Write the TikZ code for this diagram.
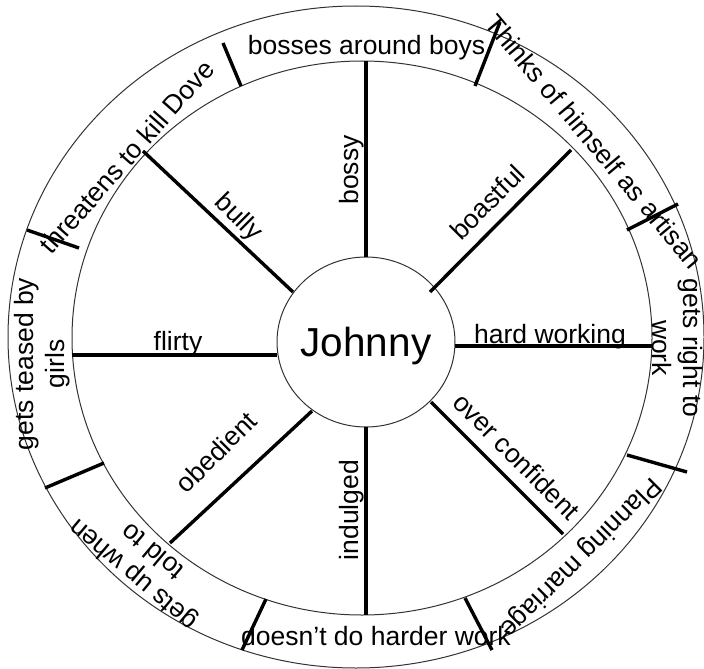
\documentclass[tikz,border=0pt]{standalone}
\usepackage{fontspec}
\setmainfont{Liberation Sans}
\usetikzlibrary{shapes.geometric}
\begin{document}
\begin{tikzpicture}[x=1pt,y=-1pt,
  ringline/.style={draw=black!80, line width=1pt},
  spokeline/.style={draw=black, line width=3.4pt},
  tickline/.style={draw=black, line width=3.4pt},
  lbl/.style={font=\fontsize{26.5}{31}\selectfont, inner sep=0pt, text=black},
  lbltwo/.style={lbl, align=center},
]
\useasboundingbox (0,0) rectangle (704,669);
\fill[white] (0,0) rectangle (704,669);

% rings
\draw[ringline] (356,337) ellipse [x radius=348, y radius=331];
\draw[ringline] (362,338) ellipse [x radius=290, y radius=277];
\node[ellipse, ringline, minimum width=178pt, minimum height=170pt, inner sep=0pt] (hub) at (366,342) {};
\node[font=\fontsize{40.5}{48}\selectfont, anchor=base, inner sep=0pt] (jname) at (366,356) {Johnny};

% spoke end points
\coordinate (bossyA) at (366,257);   \coordinate (bossyB) at (366,61);
\coordinate (indA) at (366,427);     \coordinate (indB) at (366,615);
\coordinate (flirtA) at (277,355);   \coordinate (flirtB) at (72,355);
\coordinate (hardA) at (455,346);    \coordinate (hardB) at (652,346);
\coordinate (bullyA) at (293,292);   \coordinate (bullyB) at (143,151);
\coordinate (boastA) at (430,292);   \coordinate (boastB) at (571,150);
\coordinate (obedA) at (312,411);    \coordinate (obedB) at (170,543);
\coordinate (overA) at (431,402);    \coordinate (overB) at (563,534);

\draw[spokeline] (bossyA) -- (bossyB);
\draw[spokeline] (indA) -- (indB);
\draw[spokeline] (flirtA) -- (flirtB);
\draw[spokeline] (hardA) -- (hardB);
\draw[spokeline] (bullyA) -- (bullyB);
\draw[spokeline] (boastA) -- (boastB);
\draw[spokeline] (obedA) -- (obedB);
\draw[spokeline] (overA) -- (overB);

% ring ticks
\coordinate (t1a) at (223,43);  \coordinate (t1b) at (241,86);
\coordinate (t2a) at (27,230);  \coordinate (t2b) at (79,248);
\coordinate (t3a) at (500,22);  \coordinate (t3b) at (475,86);
\coordinate (t4a) at (678,204); \coordinate (t4b) at (627,230);
\coordinate (t5a) at (687,472); \coordinate (t5b) at (627,455);
\coordinate (t6a) at (492,650); \coordinate (t6b) at (465,598);
\coordinate (t7a) at (242,650); \coordinate (t7b) at (266,599);
\coordinate (t8a) at (45,488);  \coordinate (t8b) at (104,463);
\foreach \t in {1,...,8} {\draw[tickline] (t\t a) -- (t\t b);}

% ring texts
\node[lbl, anchor=base] (rbosses) at (366.5,55) {bosses around boys};
\node[lbl, anchor=base] (rdoesnt) at (376,645) {doesn’t do harder work};
\node[lbl, anchor=mid, rotate=-50] (rthinks) at (589,146) {Thinks of himself as artisan};
\node[lbl, anchor=mid, rotate=48.5] (rthreat) at (132,161) {threatens to kill Dove};
\node[lbltwo, rotate=90] (rteased) at (42,364) {gets teased by\\girls};
\node[lbltwo, rotate=-90] (rright) at (677,348) {gets right to\\work};
\node[lbl, anchor=mid, rotate=225] (rplan) at (577,554) {Planning marriage};
\node[lbltwo, rotate=140] (rgetsup) at (142,564) {gets up when\\told to};

% spoke labels
\node[lbl, anchor=mid, rotate=90] (lbossy) at (356,170) {bossy};
\node[lbl, anchor=mid, rotate=90] (lind) at (356,510) {indulged};
\node[lbl, anchor=base] (lflirty) at (178,350) {flirty};
\node[lbl, anchor=base] (lhard) at (550,343) {hard working};
\node[lbl, anchor=mid, rotate=-45] (lbully) at (235,221) {bully};
\node[lbl, anchor=mid, rotate=45] (lboast) at (492,207) {boastful};
\node[lbl, anchor=mid, rotate=45] (lobed) at (221,457) {obedient};
\node[lbl, anchor=mid, rotate=-45] (lover) at (512,461) {over confident};
\end{tikzpicture}
\end{document}
